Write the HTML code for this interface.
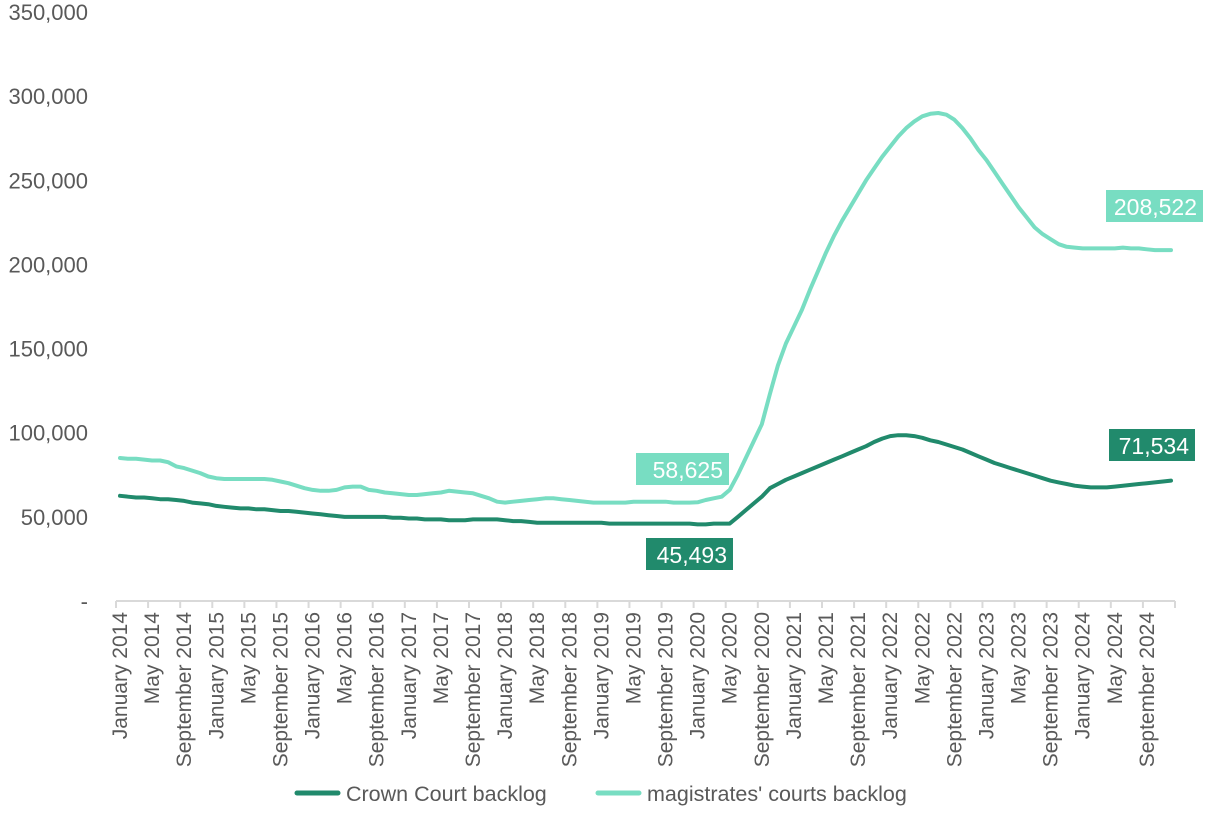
<!DOCTYPE html>
<html><head><meta charset="utf-8"><style>
body{margin:0;background:#fff;font-family:"Liberation Sans",Arial,sans-serif}
svg text{font-family:"Liberation Sans",Arial,sans-serif}
</style></head><body>
<svg id="c" width="1206" height="824"></svg>
<script>
const months=["January","February","March","April","May","June","July","August","September","October","November","December"];
const years=[2014,2015,2016,2017,2018,2019,2020,2021,2022,2023,2024];
const yTicks=[0,50000,100000,150000,200000,250000,300000,350000];
const yTickLabels=["-","50,000","100,000","150,000","200,000","250,000","300,000","350,000"];
const crown=[62.5,62,61.5,61.5,61,60.5,60.5,60,59.5,58.5,58,57.5,
56.5,56,55.5,55,55,54.5,54.5,54,53.5,53.5,53,52.5,
52,51.5,51,50.5,50,50,50,50,50,50,49.5,49.5,
49,49,48.5,48.5,48.5,48,48,48,48.5,48.5,48.5,48.5,
48,47.5,47.5,47,46.5,46.5,46.5,46.5,46.5,46.5,46.5,46.5,
46.5,46,46,46,46,46,46,46,46,46,46,46,
45.493,45.5,46,46,46,50,54,58,62,67,69.5,72,
74,76,78,80,82,84,86,88,90,92,94.5,96.5,
98,98.5,98.5,98,97,95.5,94.5,93,91.5,90,88,86,
84,82,80.5,79,77.5,76,74.5,73,71.5,70.5,69.5,68.5,
68,67.5,67.5,67.5,68,68.5,69,69.5,70,70.5,71,71.534];
const mags=[85,84.5,84.5,84,83.5,83.5,82.5,80,79,77.5,76,74,
73,72.5,72.5,72.5,72.5,72.5,72.5,72,71,70,68.5,67,
66,65.5,65.5,66,67.5,68,68,66,65.5,64.5,64,63.5,
63,63,63.5,64,64.5,65.5,65,64.5,64,62.5,61,59,
58.5,59,59.5,60,60.5,61,61,60.5,60,59.5,59,58.5,
58.5,58.5,58.5,58.5,59,59,59,59,59,58.5,58.5,58.5,
58.625,60,61,62,66,75,85,95,105,123,140,153,
163,173,185,196,207,217,226,234,242,250,257,264,
270,276,281,285,288,289.5,290,289,286,281,275,268,
262,255,248,241,234,228,222,218,215,212,210.5,210,
209.5,209.5,209.5,209.5,209.5,210,209.5,209.5,209,208.5,208.5,208.522];
const DARK="#218a6c",LIGHT="#78ddc2";
const NS="http://www.w3.org/2000/svg",svg=document.getElementById('c');
const x0=116,x1=1175,n=crown.length,w=(x1-x0)/n;
const X=i=>x0+(i+0.5)*w;
const Y=v=>601-v/350000*589;
function mk(t,a,p){const e=document.createElementNS(NS,t);for(const k in a)e.setAttribute(k,a[k]);(p||svg).appendChild(e);return e;}
yTicks.forEach((v,i)=>{const t=mk('text',{x:88,y:Y(v)+8,'text-anchor':'end','font-size':22,fill:'#595959'});t.textContent=yTickLabels[i];

});
const ax=mk('line',{x1:x0,x2:x1,y1:601,y2:601,stroke:'#d9d9d9','stroke-width':2});


for(let i=0;i<=n;i+=4){const tk=mk('line',{x1:x0+i*w,x2:x0+i*w,y1:601,y2:608,stroke:'#d9d9d9','stroke-width':2});


if(i<n){const lbl=months[i%12]+' '+years[Math.floor(i/12)];const cx=X(i)+7;
const t=mk('text',{transform:`translate(${cx},612) rotate(-90)`,'text-anchor':'end','font-size':21,fill:'#595959'});t.textContent=lbl;

}}
function line(d,col,name){const p=mk('path',{d:d.map((v,i)=>(i?'L':'M')+X(i).toFixed(1)+','+Y(v*1000).toFixed(1)).join(''),fill:'none',stroke:col,'stroke-width':4,'stroke-linejoin':'round','stroke-linecap':'round'});

}
line(mags,LIGHT,'magistrates-line');
line(crown,DARK,'crown-court-line');
function box(x,y,wd,txt,col,name){const g=mk('g',{});


mk('rect',{x:x,y:y,width:wd,height:32,fill:col},g);const t=mk('text',{x:x+wd-6,y:y+25,'text-anchor':'end','font-size':23,fill:'#fff'},g);t.textContent=txt;}
box(1106,190,97,'208,522',LIGHT,'magistrates-end-label');
box(1109,429,86,'71,534',DARK,'crown-end-label');
box(636,453,93,'58,625',LIGHT,'magistrates-min-label');
box(646,538,87,'45,493',DARK,'crown-min-label');
function leg(x,col,txt,name){const g=mk('g',{});


mk('line',{x1:x,x2:x+41,y1:793,y2:793,stroke:col,'stroke-width':5,'stroke-linecap':'round'},g);
const t=mk('text',{x:x+49,y:801,'font-size':21.5,fill:'#595959'},g);t.textContent=txt;}
leg(297,DARK,'Crown Court backlog','legend-crown');
leg(598,LIGHT,"magistrates' courts backlog",'legend-magistrates');
</script></body></html>
